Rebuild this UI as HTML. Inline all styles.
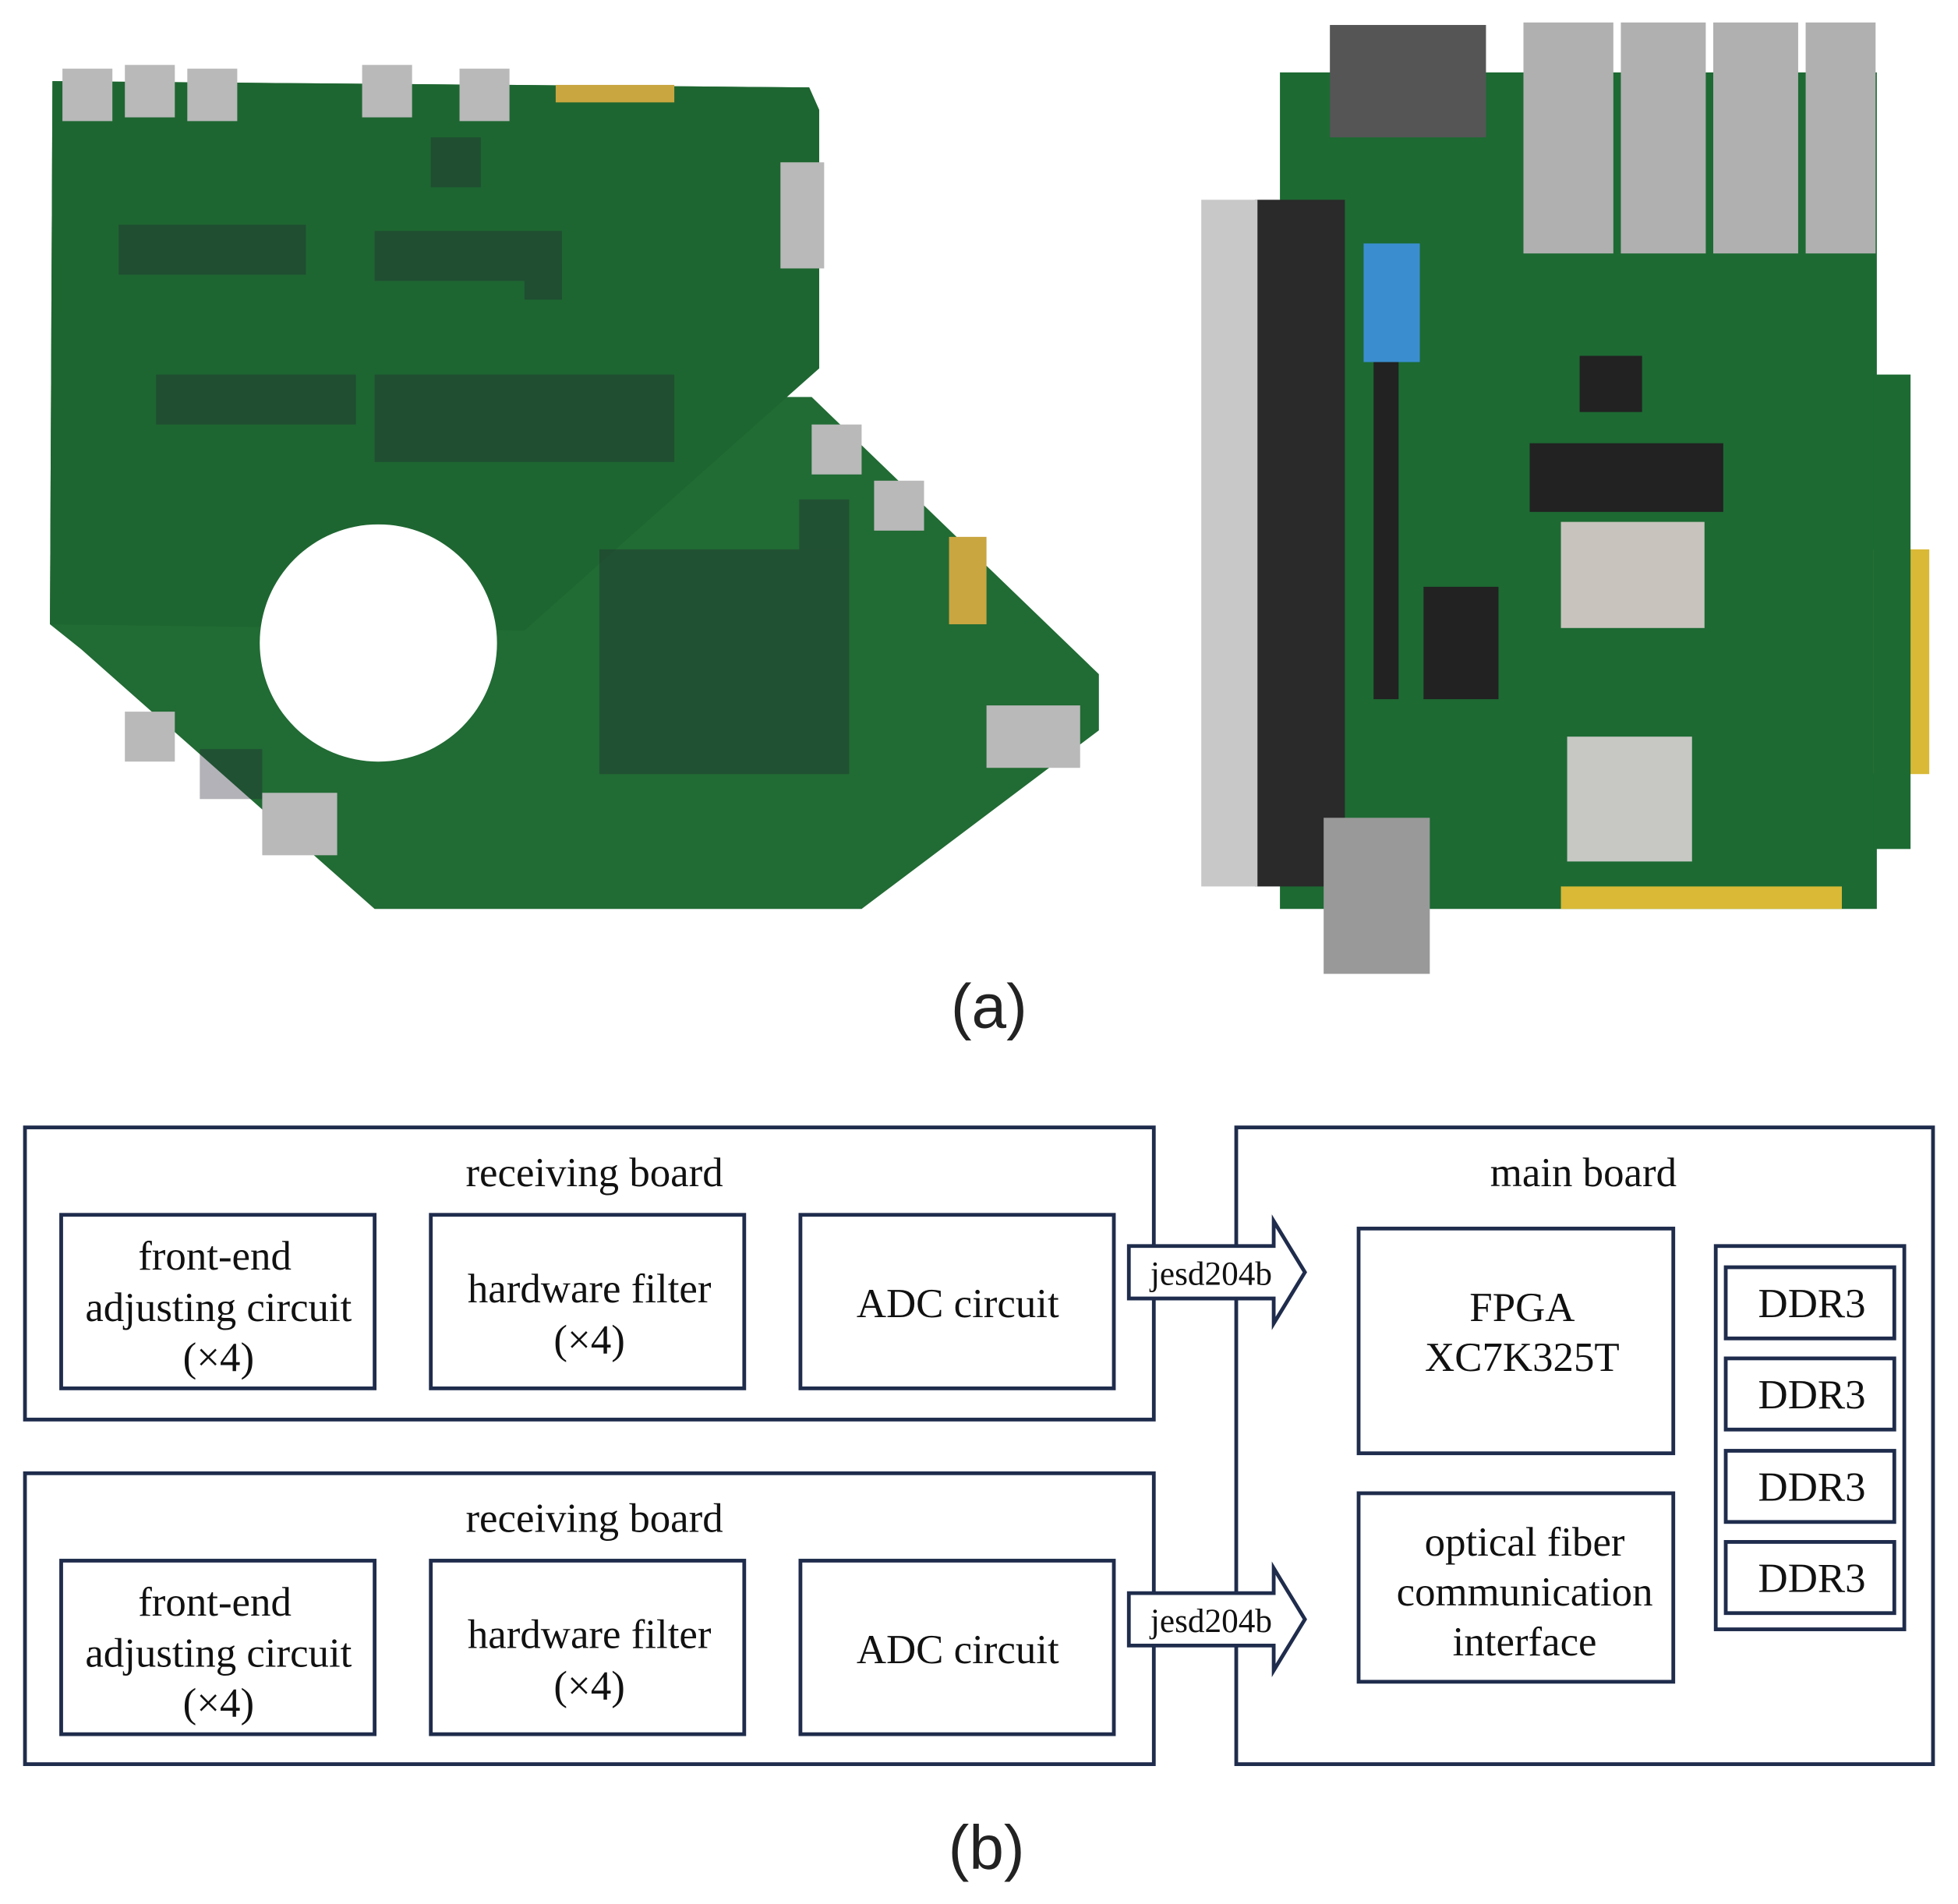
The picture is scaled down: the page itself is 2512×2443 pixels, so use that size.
<!DOCTYPE html>
<html><head><meta charset="utf-8"><style>
html,body{margin:0;padding:0;background:#fff;}
svg{display:block;}
</style></head><body>
<svg width="2512" height="2443" viewBox="0 0 1568 1525" preserveAspectRatio="none" xmlns="http://www.w3.org/2000/svg">
<rect width="1568" height="1525" fill="#fff"/>
<!-- left PCB -->
<polygon points="42,65 648,70 656,88 656,295 630,318 650,318 880,540 880,585 690,728 300,728 65,520 40,500" fill="#216b34"/>
<polygon points="42,65 648,70 656,88 656,295 420,505 40,500" fill="#1e6631"/>
<circle cx="303" cy="515" r="95" fill="#fff"/>
<g fill="#223" opacity="0.35">
<rect x="95" y="180" width="150" height="40"/><rect x="345" y="110" width="40" height="40"/>
<rect x="125" y="300" width="160" height="40"/><rect x="300" y="185" width="150" height="40"/>
<rect x="640" y="400" width="40" height="50"/><rect x="630" y="520" width="40" height="40"/>
<rect x="160" y="600" width="50" height="40"/><rect x="420" y="210" width="30" height="30"/>
<rect x="300" y="300" width="240" height="70"/><rect x="480" y="440" width="200" height="180"/>
</g>
<g fill="#b9b9b9">
<rect x="50" y="55" width="40" height="42"/><rect x="100" y="52" width="40" height="42"/><rect x="150" y="55" width="40" height="42"/>
<rect x="290" y="52" width="40" height="42"/><rect x="368" y="55" width="40" height="42"/>
<rect x="625" y="130" width="35" height="85"/><rect x="650" y="340" width="40" height="40"/><rect x="700" y="385" width="40" height="40"/>
<rect x="100" y="570" width="40" height="40"/><rect x="790" y="565" width="75" height="50"/>
<rect x="210" y="635" width="60" height="50"/>
</g>
<rect x="445" y="68" width="95" height="14" fill="#c9a640"/>
<rect x="760" y="430" width="30" height="70" fill="#c9a640"/>
<!-- right PCB -->
<rect x="1025" y="58" width="478" height="670" fill="#1d6a33"/>
<rect x="1500" y="440" width="45" height="180" fill="#d9b936"/>
<rect x="1500" y="300" width="30" height="380" fill="#1d6a33"/>
<rect x="1005" y="160" width="72" height="550" fill="#2a2a2a"/>
<rect x="962" y="160" width="45" height="550" fill="#c8c8c8"/>
<g fill="#b0b0b0">
<rect x="1220" y="18" width="72" height="185"/><rect x="1298" y="18" width="68" height="185"/>
<rect x="1372" y="18" width="68" height="185"/><rect x="1446" y="18" width="56" height="185"/>
</g>
<rect x="1065" y="20" width="125" height="90" fill="#555"/>
<rect x="1092" y="195" width="45" height="95" fill="#3a8ed0"/>
<rect x="1250" y="418" width="115" height="85" fill="#c8c4bd"/>
<rect x="1255" y="590" width="100" height="100" fill="#c7c7c4"/>
<rect x="1060" y="655" width="85" height="125" fill="#999"/>
<g fill="#222">
<rect x="1225" y="355" width="155" height="55"/><rect x="1140" y="470" width="60" height="90"/>
<rect x="1100" y="290" width="20" height="270"/><rect x="1265" y="285" width="50" height="45"/>
</g>
<rect x="1250" y="710" width="225" height="18" fill="#d9b936"/>
<text x="792" y="823" font-family="Liberation Sans, sans-serif" font-size="50" text-anchor="middle" fill="#222">(a)</text>
<text x="790" y="1497" font-family="Liberation Sans, sans-serif" font-size="50" text-anchor="middle" fill="#222">(b)</text>
<!-- diagram -->
<g fill="none" stroke="#1f2c4c" stroke-width="3">
<rect x="20" y="903" width="904" height="234"/>
<rect x="20" y="1180" width="904" height="233"/>
<rect x="990" y="903" width="558" height="510"/>
<rect x="49" y="973" width="251" height="139"/><rect x="345" y="973" width="251" height="139"/><rect x="641" y="973" width="251" height="139"/>
<rect x="49" y="1250" width="251" height="139"/><rect x="345" y="1250" width="251" height="139"/><rect x="641" y="1250" width="251" height="139"/>
<rect x="1088" y="984" width="252" height="180"/>
<rect x="1088" y="1196" width="252" height="151"/>
<rect x="1374" y="998" width="151" height="307"/>
<rect x="1382" y="1015" width="135" height="57"/><rect x="1382" y="1088" width="135" height="57"/>
<rect x="1382" y="1162" width="135" height="57"/><rect x="1382" y="1235" width="135" height="57"/>
</g>
<g fill="#fff" stroke="#1f2c4c" stroke-width="3">
<polygon points="904,998 1020,998 1020,978 1045,1019 1020,1060 1020,1040 904,1040"/>
<polygon points="904,1276 1020,1276 1020,1256 1045,1297 1020,1338 1020,1318 904,1318"/>
</g>
<g font-family="Liberation Serif, serif" fill="#111" text-anchor="middle">
<g font-size="27"><text x="970" y="1029">jesd204b</text><text x="970" y="1307">jesd204b</text></g>
<g font-size="33">
<text x="476" y="950">receiving board</text><text x="476" y="1227">receiving board</text>
<text x="1268" y="950">main board</text>
<text x="172" y="1017">front-end</text><text x="175" y="1058">adjusting circuit</text><text x="175" y="1098">(×4)</text>
<text x="472" y="1043">hardware filter</text><text x="472" y="1084">(×4)</text>
<text x="767" y="1055">ADC circuit</text>
<text x="172" y="1294">front-end</text><text x="175" y="1335">adjusting circuit</text><text x="175" y="1375">(×4)</text>
<text x="472" y="1320">hardware filter</text><text x="472" y="1361">(×4)</text>
<text x="767" y="1332">ADC circuit</text>
<text x="1219" y="1058">FPGA</text><text x="1219" y="1098">XC7K325T</text>
<text x="1221" y="1246">optical fiber</text><text x="1221" y="1286">communication</text><text x="1221" y="1326">interface</text>
<text x="1451" y="1055">DDR3</text><text x="1451" y="1128">DDR3</text><text x="1451" y="1202">DDR3</text><text x="1451" y="1275">DDR3</text>
</g></g>
</svg>
</body></html>
